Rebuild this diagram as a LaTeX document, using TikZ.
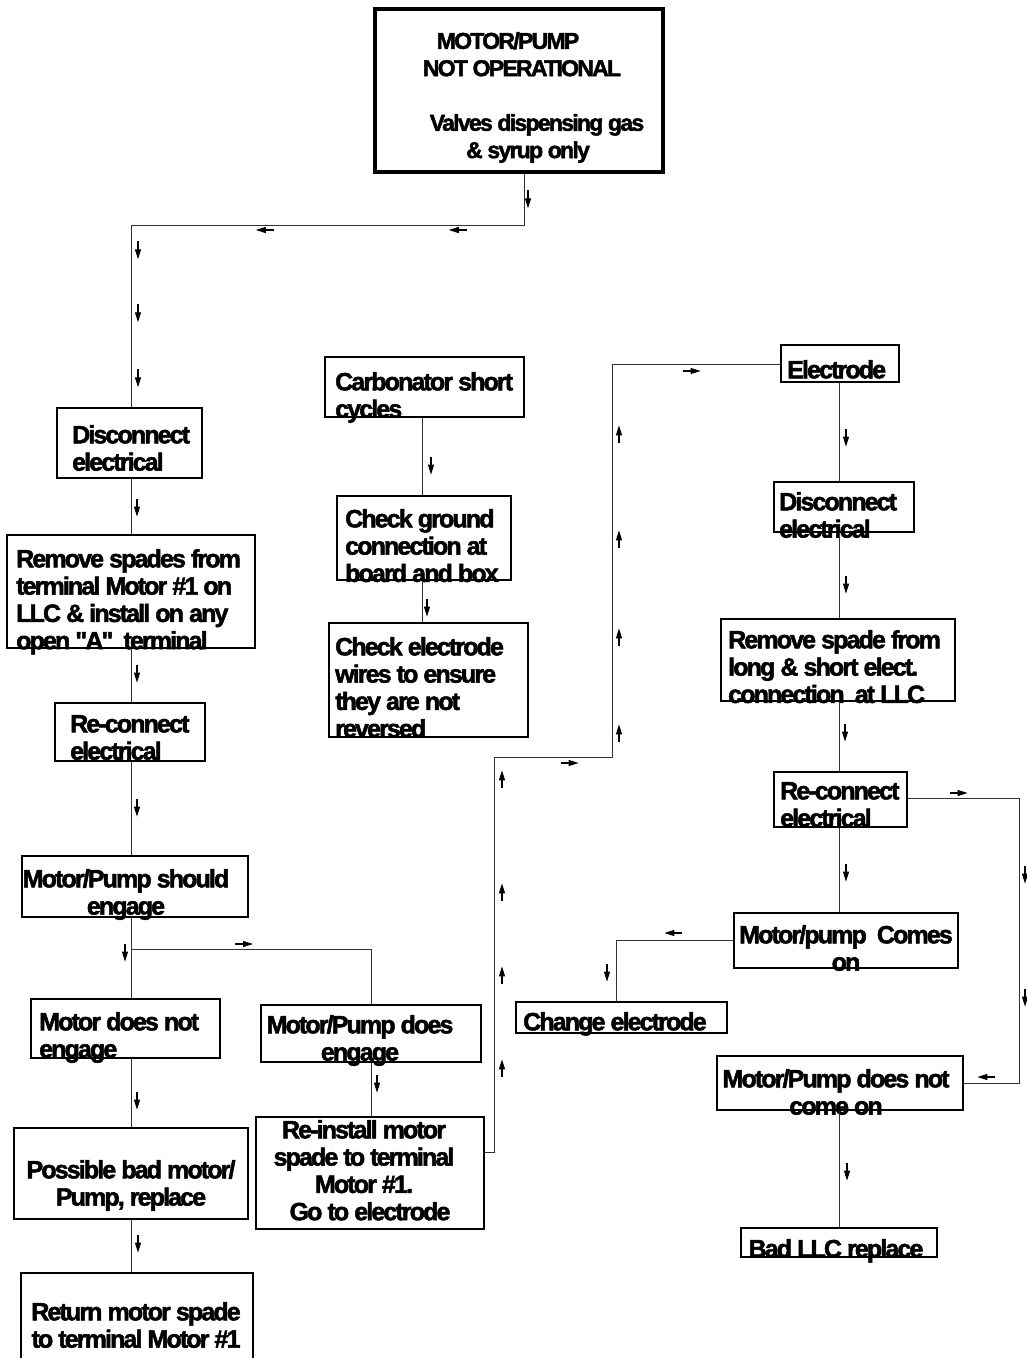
\documentclass[tikz,border=0pt]{standalone}
\usepackage{fontspec}
\newfontfamily\bfnt{Liberation Sans}[LetterSpace=-7.5,FakeBold=2]
\usetikzlibrary{arrows.meta,decorations.markings}
\tikzset{
  smarr/.style={draw=black, line width=1.1pt, -{Triangle[length=10pt,width=6pt]}},
  /pgf/decoration/tk/.style 2 args={mark=at position #1pt with {\draw[smarr] (-9pt,#2pt) -- (9pt,#2pt);}},
}
\begin{document}
\begin{tikzpicture}[x=1pt,y=-1pt,
  bx/.style 2 args={draw=black, line width=1.3pt, inner sep=0pt, minimum width=#1pt, minimum height=#2pt},
  tx/.style={inner sep=0pt, font=\bfnt\bfseries\fontsize{25}{27.3}\selectfont, align=left, anchor=north west},
  txc/.style={tx, align=center, anchor=north},
  conn/.style={draw=black!80, line width=1pt},
  mk/.style={postaction={decorate,decoration={markings,#1}}},
]
\useasboundingbox (0,0) rectangle (1026,1358);

% boxes
\node[bx={288}{163}, line width=4.5pt] (top) at (519,90.5) {};
\node[bx={145}{70}] (dis1) at (129.5,443) {};
\node[bx={248}{113}] (rem1) at (131,591.5) {};
\node[bx={150}{58}] (rec1) at (130,732) {};
\node[bx={226}{61}] (should) at (135,886.5) {};
\node[bx={189}{59}] (notengage) at (125.5,1028.5) {};
\node[bx={220}{57}] (doesengage) at (371,1033.5) {};
\node[bx={234}{91}] (possible) at (131,1173.5) {};
\node[bx={232}{89}] (ret) at (137,1317.5) {};
\node[bx={228}{112}] (reinstall) at (370,1173) {};
\node[bx={199}{60}] (carb) at (424.5,387) {};
\node[bx={174}{84}] (ground) at (424,538) {};
\node[bx={199}{114}] (checkel) at (428.5,680) {};
\node[bx={118}{37}] (electrode) at (840,363.5) {};
\node[bx={140}{50}] (dis2) at (844,507) {};
\node[bx={234}{82}] (rem2) at (838,660) {};
\node[bx={133}{55}] (rec2) at (840.5,799.5) {};
\node[bx={224}{55}] (comeson) at (846,940.5) {};
\node[bx={211}{31}] (change) at (621.5,1017.5) {};
\node[bx={246}{54}] (notcome) at (840,1083) {};
\node[bx={196}{29}] (badllc) at (839,1242.5) {};

% texts
\node[txc, font=\bfnt\bfseries\fontsize{23}{27.3}\selectfont] (topT) at (522,32) {MOTOR/PUMP\hspace*{28pt}\\NOT OPERATIONAL\hspace*{30pt}\\[27.3pt]\hspace*{30pt}Valves dispensing gas\\\hspace*{12pt}\& syrup only};
\node[tx] (dis1T) at (72,425) {Disconnect\\electrical};
\node[tx] (rem1T) at (16,549) {Remove spades from\\terminal Motor \#1 on\\LLC \& install on any\\open "A"~~terminal};
\node[tx] (rec1T) at (70,715) {Re-connect\\electrical};
\node[txc] (shouldT) at (126,869) {Motor/Pump should\\engage};
\node[tx] (notengageT) at (39,1012) {Motor does not\\engage};
\node[txc] (doesengageT) at (360,1015) {Motor/Pump does\\engage};
\node[txc] (possibleT) at (131,1160) {Possible bad motor/\\Pump, replace};
\node[txc] (retT) at (136,1302) {Return motor spade\\to terminal Motor \#1};
\node[txc] (reinstallT) at (364,1120) {Re-install motor\\spade to terminal\\Motor \#1.\\\hspace*{12pt}Go to electrode};
\node[tx] (carbT) at (335,372) {Carbonator short\\cycles};
\node[tx] (groundT) at (345,509) {Check ground\\connection at\\board and box};
\node[tx] (checkelT) at (335,637) {Check electrode\\wires to ensure\\they are not\\reversed};
\node[tx] (electrodeT) at (787,360) {Electrode};
\node[tx] (dis2T) at (779,492) {Disconnect\\electrical};
\node[tx] (rem2T) at (728,630) {Remove spade from\\long \& short elect.\\connection~~at LLC};
\node[tx] (rec2T) at (780,782) {Re-connect\\electrical};
\node[txc] (comesonT) at (846,925) {Motor/pump~~Comes\\on};
\node[tx] (changeT) at (523,1012) {Change electrode};
\node[txc] (notcomeT) at (836,1069) {Motor/Pump does not\\come on};
\node[txc] (badllcT) at (836,1239) {Bad LLC replace};

% junction coordinates
\coordinate (c1) at (524,225);
\coordinate (c2) at (131,225);
\coordinate (c3) at (131,949);
\coordinate (c4) at (422,417);
\coordinate (c5) at (494,757);
\coordinate (c6) at (612,364);
\coordinate (c7) at (494,1152);
\coordinate (c8) at (839,383);
\coordinate (c9) at (1019,798);
\coordinate (c10) at (1019,1083);
\coordinate (c11) at (616,940);

% connectors
\draw[conn, mk={tk={25}{4}, tk={117}{5}, tk={310}{5}, tk={469}{7}, tk={532}{7}, tk={597}{7}}] (top.south -| c1) -- (c1) -- (c2) -- (c2 |- dis1.north);
\draw[conn, mk={tk={29}{6}}] (dis1.south -| c2) -- (c2 |- rem1.north);
\draw[conn, mk={tk={25}{6}}] (rem1.south -| c2) -- (c2 |- rec1.north);
\draw[conn, mk={tk={46}{6}}] (rec1.south -| c2) -- (c2 |- should.north);
\draw[conn, mk={tk={35}{-6}}] (should.south -| c2) -- (c2 |- notengage.north);
\draw[conn, mk={tk={113}{5}}] (c3) -| (doesengage.north);
\draw[conn, mk={tk={21}{6}}] (doesengage.south) -- (doesengage.south |- reinstall.north);
\draw[conn, mk={tk={42}{6}}] (notengage.south -| c2) -- (c2 |- possible.north);
\draw[conn, mk={tk={24}{7}}] (possible.south -| c2) -- (c2 |- ret.north);
\draw[conn, mk={tk={48}{9}}] (carb.south -| c4) -- (c4 |- ground.north);
\draw[conn, mk={tk={27}{5}}] (ground.south -| c4) -- (c4 |- checkel.north);
\draw[conn, mk={tk={93}{-8}, tk={186}{-8}, tk={269}{-8}, tk={382}{-8}, tk={480}{-6}, tk={546}{-7}, tk={642}{-7}, tk={740}{-7}, tk={845}{-7}, tk={995}{-7}}] (reinstall.east |- c7) -- (c7) -- (c5) -- (c6 |- c5) -- (c6) -- (electrode.west |- c6);
\draw[conn, mk={tk={55}{7}}] (electrode.south -| c8) -- (c8 |- dis2.north);
\draw[conn, mk={tk={52}{7}}] (dis2.south -| c8) -- (c8 |- rem2.north);
\draw[conn, mk={tk={31}{6}}] (rem2.south -| c8) -- (c8 |- rec2.north);
\draw[conn, mk={tk={45}{7}}] (rec2.south -| c8) -- (c8 |- comeson.north);
\draw[conn, mk={tk={51}{5}, tk={188}{6}, tk={311}{6}, tk={429}{-6}}] (rec2.east |- c9) -- (c9) -- (c10) -- (notcome.east |- c10);
\draw[conn, mk={tk={60}{-7}, tk={150}{-9}}] (comeson.west |- c11) -- (c11) -- (c11 |- change.north);
\draw[conn, mk={tk={61}{8}}] (notcome.south -| c8) -- (c8 |- badllc.north);
\end{tikzpicture}
\end{document}
